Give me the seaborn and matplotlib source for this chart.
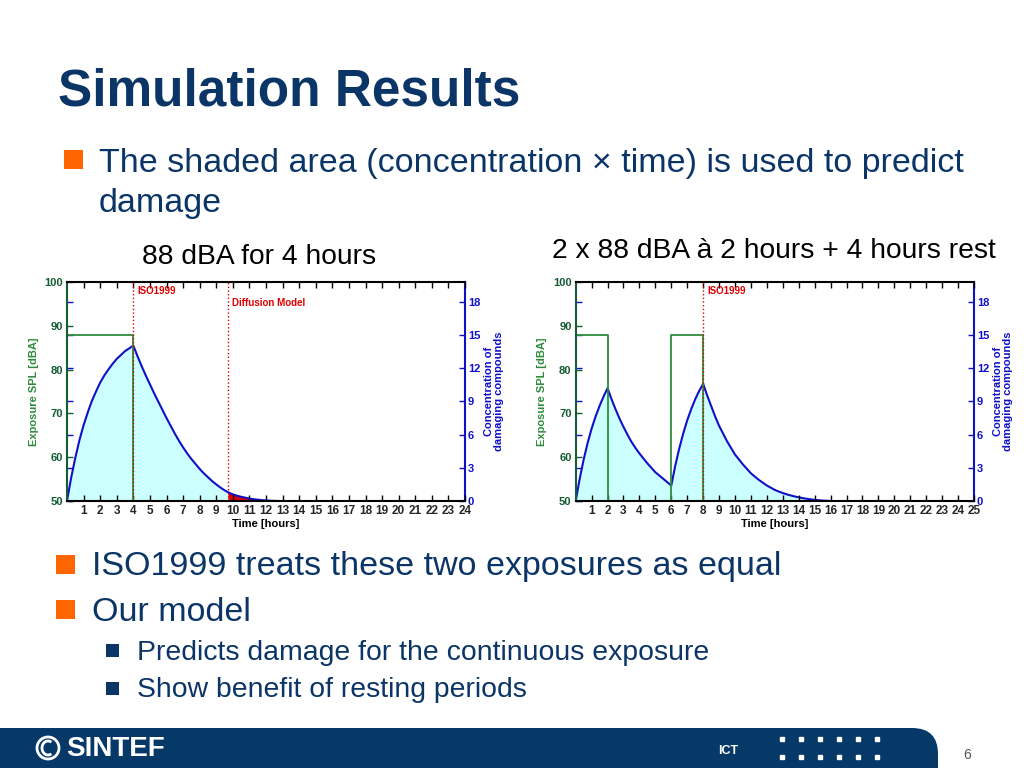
import matplotlib
matplotlib.use("Agg")
import matplotlib.pyplot as plt
import seaborn as sns
import pandas as pd
from matplotlib.patches import FancyBboxPatch, Rectangle, Circle, Arc

# --- data ---
# continuous exposure: 88 dBA for 4 hours
t_cont = [0, 0.25, 0.5, 0.75, 1, 1.25, 1.5, 1.75, 2, 2.25, 2.5, 2.75, 3, 3.25, 3.5, 3.75,
          4, 4.25, 4.5, 4.75, 5, 5.25, 5.5, 5.75, 6, 6.25, 6.5, 6.75, 7, 7.25, 7.5, 7.75,
          8, 8.25, 8.5, 8.75, 9, 9.25, 9.5, 9.7, 9.75, 10, 10.25, 10.5, 10.75, 11, 11.25,
          11.5, 11.75, 12, 12.25, 12.5, 12.75]
c_cont = [0, 2.1, 3.9, 5.5, 6.85, 8.0, 9.05, 9.9, 10.7, 11.35, 11.9, 12.4, 12.85, 13.2, 13.55, 13.8,
          14.05, 13.1, 12.2, 11.35, 10.55, 9.75, 9.0, 8.25, 7.5, 6.8, 6.1, 5.45, 4.85, 4.3, 3.8, 3.35,
          2.9, 2.5, 2.15, 1.8, 1.5, 1.22, 0.97, 0.8, 0.76, 0.6, 0.48, 0.38, 0.3, 0.22, 0.16,
          0.12, 0.08, 0.05, 0.03, 0.01, 0]
spl_cont_t = [0, 4, 4]
spl_cont_db = [88, 88, 50]

# 2 x 2 hours with 4 hours rest
t_rest = [0, 0.25, 0.5, 0.75, 1, 1.25, 1.5, 1.75, 2, 2.25, 2.5, 2.75, 3, 3.25, 3.5, 3.75,
          4, 4.25, 4.5, 4.75, 5, 5.25, 5.5, 5.75, 6, 6.25, 6.5, 6.75, 7, 7.25, 7.5, 7.75,
          8, 8.25, 8.5, 8.75, 9, 9.25, 9.5, 9.75, 10, 10.25, 10.5, 10.75, 11, 11.25, 11.5, 11.75,
          12, 12.25, 12.5, 12.75, 13, 13.25, 13.5, 13.75, 14, 14.25, 14.5, 14.75, 15, 15.25,
          15.5, 15.75, 16]
c_rest = [0, 2.0, 3.75, 5.25, 6.55, 7.65, 8.6, 9.45, 10.2, 9.2, 8.3, 7.45, 6.7, 6.0, 5.35, 4.8,
          4.3, 3.85, 3.4, 3.0, 2.6, 2.3, 2.0, 1.7, 1.4, 3.2, 4.75, 6.1, 7.3, 8.3, 9.2, 9.95,
          10.6, 9.55, 8.6, 7.65, 6.8, 6.1, 5.4, 4.8, 4.2, 3.75, 3.3, 2.9, 2.5, 2.2, 1.9, 1.65,
          1.4, 1.2, 1.0, 0.85, 0.72, 0.6, 0.5, 0.41, 0.33, 0.26, 0.2, 0.15, 0.1, 0.07,
          0.04, 0.02, 0]
spl_rest_t = [0, 2, 2, 6, 6, 8, 8]
spl_rest_db = [88, 88, 50, 50, 88, 88, 50]

iso_cont = 4
diffusion_cont = 9.7
iso_rest = 8

panel_titles = ["88 dBA for 4 hours", "2 x 88 dBA à 2 hours + 4 hours rest"]

NAVY = "#0b3566"
ORANGE = "#ff6600"
GREEN = "#2e8b3a"
DKGREEN = "#135c34"
BLUE = "#1010c8"
CYAN = "#ccffff"
RED = "#e00000"

sns.set_theme(style="white")
plt.rcParams["font.family"] = ["Liberation Sans", "DejaVu Sans"]

fig = plt.figure(figsize=(10.24, 7.68), dpi=100)
bg = fig.add_axes([0, 0, 1, 1])
bg.set_xlim(0, 1024)
bg.set_ylim(768, 0)
bg.axis("off")


def draw_panel(rect, t, c, spl_t, spl_db, xmax, marks, red_from=None):
    ax = fig.add_axes(rect)
    ax2 = ax.twinx()
    df = pd.DataFrame({"t": t, "c": c})
    cut = red_from if red_from is not None else xmax
    part = df[df.t <= cut]
    ax2.fill_between(part.t, 0, part.c, color=CYAN, lw=0)
    if red_from is not None:
        part = df[df.t >= red_from]
        ax2.fill_between(part.t, 0, part.c, color=RED, lw=0)
    sns.lineplot(data=df, x="t", y="c", ax=ax2, color=BLUE, lw=1.5,
                 sort=False, estimator=None)
    sns.lineplot(x=spl_t, y=spl_db, ax=ax, color=GREEN, lw=1.3,
                 sort=False, estimator=None)
    for xpos, label, ytext in marks:
        ax.axvline(xpos, color=RED, ls=":", lw=1)
        ax.text(xpos + 0.25, ytext, label, color=RED, fontsize=7,
                fontweight="bold", va="center")

    ax.set_zorder(ax2.get_zorder() + 1)
    ax.patch.set_visible(False)

    ax.set_xlim(0, xmax)
    ax.set_ylim(50, 100)
    ax2.set_ylim(0, 19.8)
    ax.set_xticks(range(1, xmax + 1))
    ax.set_yticks(range(50, 101, 10))
    ax2.set_yticks(range(0, 19, 3))

    ax.tick_params(axis="x", direction="in", bottom=True, top=True, length=4,
                   width=1, color="black", labelsize=8.5, pad=3)
    ax.tick_params(axis="y", direction="in", left=True, right=False, length=4,
                   width=1, color=DKGREEN, labelcolor=DKGREEN, labelsize=8, pad=3)
    ax2.yaxis.set_ticks_position("both")
    ax2.tick_params(axis="y", direction="in", left=True, right=True, length=4,
                    width=1, color=BLUE, labelcolor=BLUE, labelsize=8, pad=2,
                    labelleft=False, labelright=True)
    for lbl in ax.get_xticklabels() + ax.get_yticklabels() + ax2.get_yticklabels():
        lbl.set_fontweight("bold")

    for s in ["top", "bottom"]:
        ax.spines[s].set_color("black")
        ax.spines[s].set_linewidth(1.5)
    ax.spines["left"].set_color(DKGREEN)
    ax.spines["left"].set_linewidth(1.5)
    ax.spines["right"].set_visible(False)
    for s in ["left", "top", "bottom"]:
        ax2.spines[s].set_visible(False)
    ax2.spines["right"].set_color(BLUE)
    ax2.spines["right"].set_linewidth(1.5)

    ax.set_xlabel("Time [hours]", fontsize=8, fontweight="bold", color="black", labelpad=1)
    ax.set_ylabel("Exposure SPL [dBA]", fontsize=8, fontweight="bold", color=GREEN, labelpad=4)
    ax2.set_ylabel("Concentration of\ndamaging compounds", fontsize=8, fontweight="bold",
                   color=BLUE, labelpad=3, linespacing=1.0)
    return ax, ax2


draw_panel([67 / 1024, 267 / 768, 398 / 1024, 219 / 768], t_cont, c_cont,
           spl_cont_t, spl_cont_db, 24,
           [(iso_cont, "ISO1999", 97.9), (diffusion_cont, "Diffusion Model", 95.2)],
           red_from=diffusion_cont)
draw_panel([575.7 / 1024, 267 / 768, 398.3 / 1024, 219 / 768], t_rest, c_rest,
           spl_rest_t, spl_rest_db, 25, [(iso_rest, "ISO1999", 97.9)])

# --- slide text ---
bg.text(58, 106, "Simulation Results", fontsize=37, fontweight="bold", color=NAVY, va="baseline")

bg.add_patch(Rectangle((64, 150), 19, 19, color=ORANGE, lw=0))
bg.text(99, 172, "The shaded area (concentration \u00d7 time) is used to predict",
        fontsize=24.5, color=NAVY, va="baseline")
bg.text(99, 212, "damage", fontsize=24.5, color=NAVY, va="baseline")

bg.text(259, 257, panel_titles[0], fontsize=20.3, color="black", ha="center", va="center")
bg.text(774, 251, panel_titles[1], fontsize=20.3, color="black", ha="center", va="center")

bg.add_patch(Rectangle((56, 555), 19, 19, color=ORANGE, lw=0))
bg.text(92, 575, "ISO1999 treats these two exposures as equal", fontsize=24.5,
        color=NAVY, va="baseline")
bg.add_patch(Rectangle((56, 600), 19, 19, color=ORANGE, lw=0))
bg.text(92, 621, "Our model", fontsize=24.5, color=NAVY, va="baseline")

bg.add_patch(Rectangle((106, 644), 13, 13, color=NAVY, lw=0))
bg.text(137, 660, "Predicts damage for the continuous exposure", fontsize=20.4,
        color=NAVY, va="baseline")
bg.add_patch(Rectangle((106, 682), 13, 13, color=NAVY, lw=0))
bg.text(137, 697, "Show benefit of resting periods", fontsize=20.4,
        color=NAVY, va="baseline")

# --- footer ---
bg.add_patch(FancyBboxPatch((-60, 728), 998, 120, boxstyle="round,pad=0,rounding_size=26",
                            color="#063868", lw=0))
bg.add_patch(Circle((48, 748), 11, fill=False, ec="white", lw=2))
bg.add_patch(Arc((48, 748), 12, 14, theta1=60, theta2=300, ec="white", lw=2))
bg.text(66, 749, "SINTEF", fontsize=20, fontweight="bold", color="white", va="center")
bg.text(718, 751, "ICT", fontsize=9, fontweight="bold", color="white", va="center")
for row in [739, 757]:
    bg.plot([782, 801, 820, 839, 858, 877], [row] * 6, ls="none", marker="s",
            ms=3, color="white")
bg.text(967, 755, "6", fontsize=10, color="#555555", va="center", ha="center")

fig.savefig("out.png", dpi=100)
